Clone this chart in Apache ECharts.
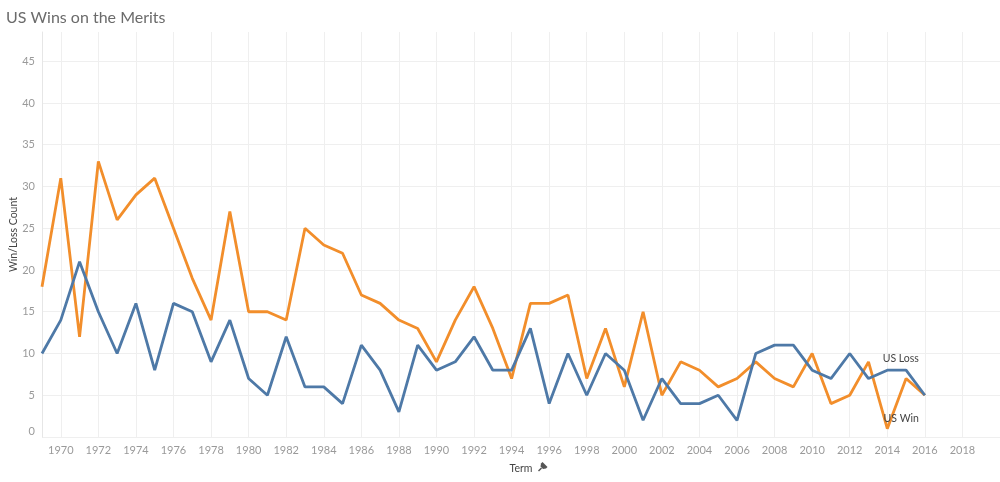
<!DOCTYPE html>
<html>
<head>
<meta charset="utf-8">
<script src="https://cdn.jsdelivr.net/npm/echarts@6/dist/echarts.min.js"></script>
<style>
html,body{margin:0;padding:0;background:#fff;}
#chart{width:1000px;height:482px;}
</style>
</head>
<body>
<div id="chart"></div>
<script>
const years = [1969,1970,1971,1972,1973,1974,1975,1976,1977,1978,1979,1980,1981,1982,1983,1984,1985,1986,1987,1988,1989,1990,1991,1992,1993,1994,1995,1996,1997,1998,1999,2000,2001,2002,2003,2004,2005,2006,2007,2008,2009,2010,2011,2012,2013,2014,2015,2016];
const usWin  = [18,31,12,33,26,29,31,25,19,14,27,15,15,14,25,23,22,17,16,14,13,9,14,18,13,7,16,16,17,7,13,6,15,5,9,8,6,7,9,7,6,10,4,5,9,1,7,5];
const usLoss = [10,14,21,15,10,16,8,16,15,9,14,7,5,12,6,6,4,11,8,3,11,8,9,12,8,8,13,4,10,5,10,8,2,7,4,4,5,2,10,11,11,8,7,10,7,8,8,5];
const xTicks = [1970,1972,1974,1976,1978,1980,1982,1984,1986,1988,1990,1992,1994,1996,1998,2000,2002,2004,2006,2008,2010,2012,2014,2016,2018];
const yTicks = [0,5,10,15,20,25,30,35,40,45];

const FONT = 'Lato, "Open Sans", sans-serif';
const chart = echarts.init(document.getElementById('chart'), null, {renderer:'canvas'});

function pairs(vals){ return years.map((y,i)=>[y, vals[i]]); }

chart.setOption({
  animation:false,
  title:{text:'US Wins on the Merits', left:1, top:5,
    textStyle:{fontSize:16, fontWeight:'normal', color:'#6b6b6b', fontFamily:FONT}},
  grid:{left:42, right:0, top:32, bottom:45, containLabel:false, outerBoundsMode:'none'},
  xAxis:{
    type:'value', min:1969, max:2020,
    name:'Term', nameLocation:'middle', nameGap:26, nameMoveOverlap:false,
    nameTextStyle:{color:'#444', fontSize:10.5, fontFamily:FONT},
    axisLine:{show:false},
    axisTick:{show:false, customValues:xTicks},
    axisLabel:{customValues:xTicks, color:'#9a9a9a', fontSize:11, fontFamily:FONT, margin:8,
      formatter:v=>String(v)},
    splitLine:{show:true, lineStyle:{color:'#efefef', width:1}}
  },
  yAxis:{
    type:'value', min:0, max:48.5,
    name:'Win/Loss Count', nameLocation:'middle', nameGap:23, nameRotate:90, nameMoveOverlap:false,
    nameTextStyle:{color:'#444', fontSize:10.5, fontFamily:FONT},
    axisLine:{show:true, lineStyle:{color:'#e6e6e6'}},
    axisTick:{show:false, customValues:yTicks},
    axisLabel:{customValues:yTicks, color:'#9a9a9a', fontSize:11, fontFamily:FONT, margin:7,
      formatter:v=> v===0 ? '{z|0}' : String(v),
      rich:{z:{color:'#9a9a9a', fontSize:11, fontFamily:FONT, padding:[0,0,12,0]}}},
    splitLine:{show:true, lineStyle:{color:'#efefef', width:1}}
  },
  series:[
    {name:'US Win', type:'line', data:pairs(usWin), showSymbol:false, symbol:'none',
      lineStyle:{color:'#f28e2b', width:2.8}, itemStyle:{color:'#f28e2b'}, z:2,
      endLabel:{show:true, formatter:'US Win', align:'right', verticalAlign:'middle', offset:[-14,23.5],
        color:'#444', fontSize:10.5, fontFamily:FONT}},
    {name:'US Loss', type:'line', data:pairs(usLoss), showSymbol:false, symbol:'none',
      lineStyle:{color:'#4e79a7', width:2.8}, itemStyle:{color:'#4e79a7'}, z:3,
      endLabel:{show:true, formatter:'US Loss', align:'right', verticalAlign:'middle', offset:[-14,-36.5],
        color:'#444', fontSize:10.5, fontFamily:FONT}}
  ],
  graphic:[
    {type:'group', left:536, top:462, children:[
      {type:'polygon', shape:{points:[[3,1],[8,6],[6.5,7.5],[3.5,8],[1,5.5],[1.5,2.5]]}, style:{fill:'#555'}},
      {type:'line', shape:{x1:2,y1:7,x2:-1,y2:10}, style:{stroke:'#555', lineWidth:1.4}}
    ]}
  ]
});
</script>
</body>
</html>
